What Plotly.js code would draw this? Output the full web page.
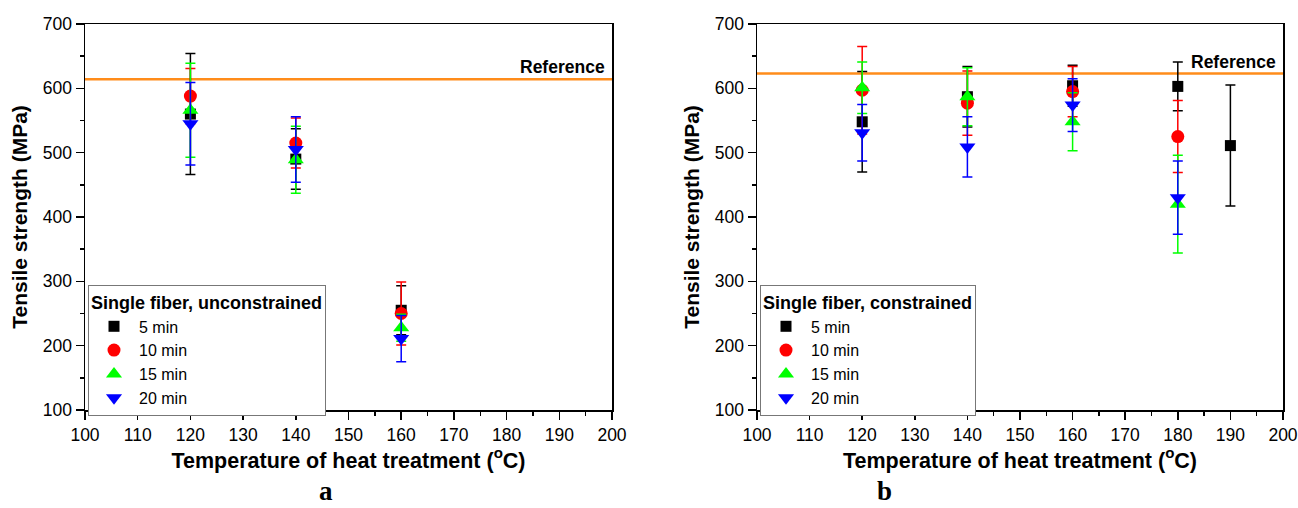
<!DOCTYPE html>
<html>
<head>
<meta charset="utf-8">
<script src="https://cdn.plot.ly/plotly-3.0.1.min.js"></script>
<style>html,body{margin:0;padding:0;background:#fff;}#chart{width:1298px;height:508px;}</style>
</head>
<body>
<div id="chart"></div>
<script>
// ---- Data ----
const durations = ["5 min", "10 min", "15 min", "20 min"];

// Panel a: single fiber, unconstrained
const tempsA = [120, 140, 160];
const a5 = [560, 490, 255];   const a5Err = [94, 47, 38];
const a10 = [588, 515, 250];  const a10Err = [43, 39, 49];
const a15 = [566, 489, 228];  const a15Err = [73, 52, 21];
const a20 = [545, 505, 211];  const a20Err = [64, 51, 36];

// Panel b: single fiber, constrained
const tempsB5 = [120, 140, 160, 180, 190];
const tempsB = [120, 140, 160, 180];
const b5 = [548, 587, 604, 603, 511]; const b5Err = [78, 47, 32, 38, 94];
const b10 = [597, 577, 595, 525];     const b10Err = [68, 50, 39, 56];
const b15 = [601, 587, 548, 420];     const b15Err = [40, 45, 45, 76];
const b20 = [531, 509, 574, 430];     const b20Err = [44, 47, 41, 57];

// Reference strengths
const refA = 614;
const refB = 623;

const legendTitles = ["Single fiber, unconstrained", "Single fiber, constrained"];
const panelLabels = ["a", "b"];

// ---- Styles ----
const colors = ["#000000", "#ff0000", "#00ff00", "#0000ff"];
const symbols = ["square", "circle", "triangle-up", "triangle-down"];
const sizes = [11, 13, 14, 14];
const FONT = "Liberation Sans, Arial, sans-serif";

function mk(x, y, err, i, xa, ya, leg) {
  return {
    type: "scatter", mode: "markers", x: x, y: y,
    name: durations[i], xaxis: xa, yaxis: ya, legend: leg,
    marker: {symbol: symbols[i], color: colors[i], size: sizes[i], line: {width: 0}},
    error_y: {type: "data", array: err, visible: true, color: colors[i], thickness: 1.5, width: 5},
    cliponaxis: false
  };
}

const traces = [
  mk(tempsA, a5, a5Err, 0, "x", "y", "legend"),
  mk(tempsA, a10, a10Err, 1, "x", "y", "legend"),
  mk(tempsA, a15, a15Err, 2, "x", "y", "legend"),
  mk(tempsA, a20, a20Err, 3, "x", "y", "legend"),
  mk(tempsB5, b5, b5Err, 0, "x2", "y2", "legend2"),
  mk(tempsB, b10, b10Err, 1, "x2", "y2", "legend2"),
  mk(tempsB, b15, b15Err, 2, "x2", "y2", "legend2"),
  mk(tempsB, b20, b20Err, 3, "x2", "y2", "legend2")
];

const W = 1298, H = 508;
const yTop = 1 - 24 / H, yBot = 1 - 410 / H;

function xax(domain, anchor) {
  return {
    domain: domain, anchor: anchor, range: [100, 200], dtick: 10, tick0: 100,
    showgrid: false, zeroline: false, showline: true, linecolor: "#000", linewidth: 1.5,
    mirror: true, ticks: "outside", ticklen: 8, tickwidth: 1.5, tickcolor: "#000",
    minor: {dtick: 5, ticks: "outside", ticklen: 4, tickwidth: 1.5, tickcolor: "#000"},
    tickfont: {family: FONT, size: 17.5, color: "#000"},
    title: {text: "Temperature of heat treatment (<sup>o</sup>C)", standoff: 5,
            font: {family: FONT, size: 21.5, color: "#000", weight: "bold"}},
    automargin: false, fixedrange: true
  };
}
function yax(anchor) {
  return {
    domain: [yBot, yTop], anchor: anchor, range: [100, 700], dtick: 100, tick0: 100,
    showgrid: false, zeroline: false, showline: true, linecolor: "#000", linewidth: 1.5,
    mirror: true, ticks: "outside", ticklen: 8, tickwidth: 1.5, tickcolor: "#000",
    minor: {dtick: 50, ticks: "outside", ticklen: 4, tickwidth: 1.5, tickcolor: "#000"},
    tickfont: {family: FONT, size: 17.5, color: "#000"},
    title: {text: "Tensile strength (MPa)", standoff: 9,
            font: {family: FONT, size: 21, color: "#000", weight: "bold"}},
    automargin: false, fixedrange: true
  };
}

function leg(x, title) {
  return {
    x: x, y: 1 - 285 / H, xanchor: "left", yanchor: "top",
    bgcolor: "#ffffff", bordercolor: "#777", borderwidth: 1,
    font: {family: FONT, size: 16, color: "#000"},
    itemwidth: 40,
    title: {text: title, font: {family: FONT, size: 18, color: "#000", weight: "bold"}},
    itemclick: false, itemdoubleclick: false
  };
}

const layout = {
  width: W, height: H,
  margin: {l: 0, r: 0, t: 0, b: 0},
  paper_bgcolor: "#fff", plot_bgcolor: "#fff",
  xaxis: xax([85 / W, 612 / W], "y"),
  yaxis: yax("x"),
  xaxis2: xax([757 / W, 1283 / W], "y2"),
  yaxis2: yax("x2"),
  legend: leg(88 / W, legendTitles[0]),
  legend2: leg(760 / W, legendTitles[1]),
  shapes: [
    {type: "line", xref: "x domain", yref: "y", x0: 0, x1: 1, y0: refA, y1: refA, line: {color: "#ff8c1a", width: 2.5}, layer: "below"},
    {type: "line", xref: "x2 domain", yref: "y2", x0: 0, x1: 1, y0: refB, y1: refB, line: {color: "#ff8c1a", width: 2.5}, layer: "below"}
  ],
  annotations: [
    {xref: "x domain", yref: "y", x: 0.99, y: refA, xanchor: "right", yanchor: "bottom", yshift: 0,
     text: "Reference", showarrow: false, font: {family: FONT, size: 17.5, color: "#000", weight: "bold"}},
    {xref: "x2 domain", yref: "y2", x: 0.99, y: refB, xanchor: "right", yanchor: "bottom", yshift: 0,
     text: "Reference", showarrow: false, font: {family: FONT, size: 17.5, color: "#000", weight: "bold"}},
    {xref: "paper", yref: "paper", x: 326 / W, y: 0, xanchor: "center", yanchor: "bottom",
     text: panelLabels[0], showarrow: false, font: {family: "Liberation Serif, Times New Roman, serif", size: 27, color: "#000", weight: "bold"}},
    {xref: "paper", yref: "paper", x: 885 / W, y: 0, xanchor: "center", yanchor: "bottom",
     text: panelLabels[1], showarrow: false, font: {family: "Liberation Serif, Times New Roman, serif", size: 27, color: "#000", weight: "bold"}}
  ],
  showlegend: true
};

Plotly.newPlot("chart", traces, layout, {displayModeBar: false, staticPlot: true});
</script>
</body>
</html>
